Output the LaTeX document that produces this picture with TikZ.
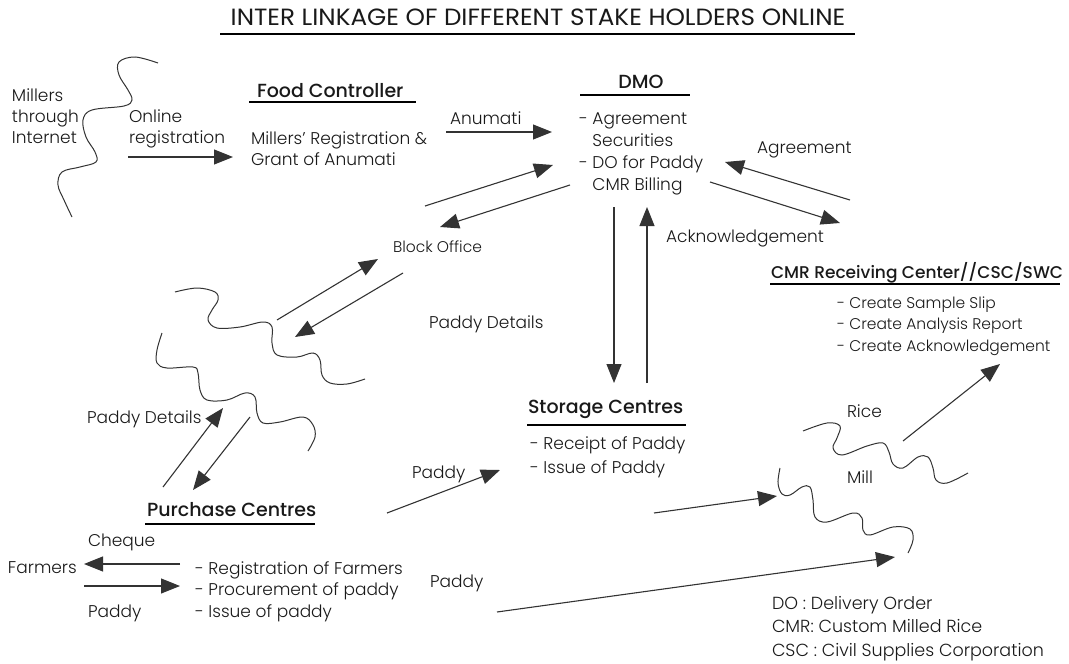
\documentclass[tikz,border=0pt]{standalone}
\usepackage{fontspec}
\IfFontExistsTF{Poppins Light}
  {\IfFontExistsTF{Poppins Medium}
    {\setmainfont{Poppins}[UprightFont={* Light},BoldFont={* Medium}]}
    {\setmainfont{Poppins}[UprightFont={* Light},BoldFont={* Bold}]}}
  {\setmainfont{Poppins}}
\newfontfamily\titlefont{Poppins}[FakeStretch=1.05]
\usetikzlibrary{arrows.meta,positioning}

\begin{document}
\begin{tikzpicture}[x=1pt,y=-1pt,
    every node/.style={inner sep=0pt,outer sep=0pt,anchor=base west,text=black!90},
    txt/.style={font=\fontsize{17}{21}\selectfont,align=left},
    note/.style={font=\fontsize{15.5}{21.5}\selectfont,align=left},
    heading/.style={font=\fontsize{19}{22}\selectfont\bfseries},
    titletext/.style={font=\titlefont\fontsize{23.5}{26}\selectfont},
    wave/.style={draw=black!80,line width=1pt},
    arr/.style={draw=black!80,line width=1.1pt,-{Triangle[length=19pt,width=15pt]}}]

  \useasboundingbox (0,0) rectangle (1069,664);

  % title
  \node[titletext,anchor=base] (title) at (538,25) {INTER LINKAGE OF DIFFERENT STAKE HOLDERS ONLINE};
  \draw[line width=2pt] (220,34) -- (855,34);

  % millers and food controller (multi-line nodes sit on their last line)
  \node[txt] (millers) at (12,143) {Millers\\through\\Internet};
  \node[txt] (online) at (129,143) {Online\\registration};
  \node[heading] (fc) at (257,97) {Food Controller};
  \draw[line width=1.3pt] (249,102) -- (416,102);
  \node[txt] (fctext) at (251,165) {Millers' Registration \&\\Grant of Anumati};
  \node[txt] (anumati) at (450,124) {Anumati};

  % DMO
  \node[heading,anchor=base] (dmo) at (641,88) {DMO};
  \draw[line width=1.3pt] (580,95) -- (690,95);
  \node[txt,font=\fontsize{17}{22}\selectfont] (dmotext) at (579,190)
    {- Agreement\\\hphantom{-\ }Securities\\- DO for Paddy\\\hphantom{-\ }CMR Billing};
  \node[txt] (agree) at (757,153) {Agreement};
  \node[txt] (ack) at (666,242) {Acknowledgement};
  \node[note] (block) at (393,252) {Block Office};
  \node[txt] (details) at (429,328) {Paddy Details};

  % CMR receiving center
  \node[heading,font=\fontsize{17}{22}\selectfont\bfseries] (cmr) at (771,278) {CMR Receiving Center//CSC/SWC};
  \draw[line width=1.3pt] (770,284) -- (1060,284);
  \node[note] (cmrtext) at (837,351)
    {- Create Sample Slip\\- Create Analysis Report\\- Create Acknowledgement};

  % storage centres
  \node[heading] (storage) at (528,413) {Storage Centres};
  \draw[line width=1.3pt] (527,425) -- (686,425);
  \node[txt,font=\fontsize{17}{24}\selectfont] (stortext) at (530,473)
    {- Receipt of Paddy\\- Issue of Paddy};
  \node[txt] (paddy1) at (412,478) {Paddy};

  % mill
  \node[txt] (rice) at (847,417) {Rice};
  \node[txt] (mill) at (847,483) {Mill};

  % purchase centres
  \node[txt] (details2) at (87,423) {Paddy Details};
  \node[heading] (pc) at (147,516) {Purchase Centres};
  \draw[line width=1.3pt] (145,524) -- (315,524);
  \node[txt] (cheque) at (88,546) {Cheque};
  \node[txt] (farmers) at (8,573) {Farmers};
  \node[txt,font=\fontsize{17}{21.5}\selectfont] (pctext) at (195,617)
    {- Registration of Farmers\\- Procurement of paddy\\- Issue of paddy};
  \node[txt] (paddy2) at (88,617) {Paddy};
  \node[txt] (paddy3) at (430,587) {Paddy};

  % legend
  \node[txt,font=\fontsize{17.5}{23.5}\selectfont] (legend) at (772,656)
    {DO : Delivery Order\\CMR: Custom Milled Rice\\CSC : Civil Supplies Corporation};

  % wavy lines
  \draw[wave] plot[smooth,tension=0.6] coordinates {(158,63) (135,57) (119,62) (119,75) (128,90)
    (132,100) (124,106) (92,110) (83,120) (86,137) (95,152) (96,162) (80,167) (62,172)
    (58,185) (64,200) (72,217)};
  \draw[wave] plot[smooth,tension=0.6] coordinates {(175,292) (197,288) (215,292) (218,300)
    (212,310) (208,320) (217,328) (240,327) (263,322) (272,327) (272,343) (277,355)
    (297,357) (313,353) (320,360) (322,375) (330,383) (347,384) (365,379)};
  \draw[wave] plot[smooth,tension=0.6] coordinates {(162,333) (157,350) (157,363) (167,368)
    (193,367) (198,373) (200,390) (207,400) (227,400) (245,393) (255,397) (257,413)
    (263,423) (280,422) (303,417) (313,425) (315,437) (308,451)};
  \draw[wave] plot[smooth,tension=0.6] coordinates {(803,431) (827,423) (840,426) (837,438)
    (833,448) (842,455) (867,446) (883,443) (889,452) (893,464) (903,468) (918,457)
    (928,457) (933,468) (936,480) (947,483) (968,473)};
  \draw[wave] plot[smooth,tension=0.6] coordinates {(780,468) (778,483) (782,494) (790,495)
    (802,487) (810,487) (813,500) (815,517) (827,522) (853,513) (862,518) (863,530)
    (870,535) (893,527) (910,529) (913,540) (908,553)};

  % arrow ends
  \coordinate (a1) at (128,157);  \coordinate (b1) at (233,157);
  \coordinate (a2) at (446,132);  \coordinate (b2) at (552,132);
  \coordinate (a3) at (425,206);  \coordinate (b3) at (553,165);
  \coordinate (a4) at (570,185);  \coordinate (b4) at (440,227);
  \coordinate (a5) at (850,200);  \coordinate (b5) at (725,162);
  \coordinate (a6) at (710,182);  \coordinate (b6) at (840,223);
  \coordinate (a7) at (614,207);  \coordinate (b7) at (614,383);
  \coordinate (a8) at (647,383);  \coordinate (b8) at (647,207);
  \coordinate (a9) at (277,320);  \coordinate (b9) at (378,259);
  \coordinate (a10) at (403,273); \coordinate (b10) at (295,337);
  \coordinate (a11) at (163,487); \coordinate (b11) at (223,408);
  \coordinate (a12) at (250,417); \coordinate (b12) at (193,490);
  \coordinate (a13) at (387,513); \coordinate (b13) at (500,470);
  \coordinate (a14) at (180,564); \coordinate (b14) at (84,564);
  \coordinate (a15) at (84,586);  \coordinate (b15) at (180,586);
  \coordinate (a16) at (497,612); \coordinate (b16) at (895,557);
  \coordinate (a17) at (654,513); \coordinate (b17) at (777,496);
  \coordinate (a18) at (903,441); \coordinate (b18) at (1000,364);

  \path[every edge/.style={arr}]
    (a1) edge (b1)   (a2) edge (b2)   (a3) edge (b3)   (a4) edge (b4)
    (a5) edge (b5)   (a6) edge (b6)   (a7) edge (b7)   (a8) edge (b8)
    (a9) edge (b9)   (a10) edge (b10) (a11) edge (b11) (a12) edge (b12)
    (a13) edge (b13) (a14) edge (b14) (a15) edge (b15) (a16) edge (b16)
    (a17) edge (b17) (a18) edge (b18);
\end{tikzpicture}
\end{document}
